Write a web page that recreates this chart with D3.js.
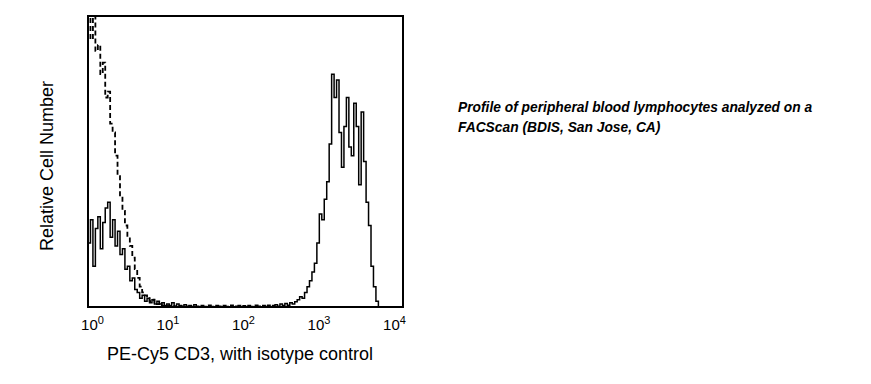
<!DOCTYPE html>
<html>
<head>
<meta charset="utf-8">
<script src="https://cdn.jsdelivr.net/npm/d3@7"></script>
<style>
  body { margin: 0; background: #fff; }
  svg text { font-family: "Liberation Sans", Arial, sans-serif; fill: #000; }
</style>
</head>
<body>
<div id="chart"></div>
<script>
// histogram bins: 32 per decade, from 10^0 to 10^4 (128 bins)
var binsPerDecade = 32;

// CD3 stained (solid line), relative cell number (100 = top of plot)
var cd3Counts = [
  22, 30, 14, 27, 31, 20, 29, 34, 36, 24, 30, 21, 26, 18, 20, 13,
  14, 9, 10, 6, 5, 3, 4, 2, 3, 1.5, 2.5, 1, 2, 1, 1.5, 0.5,
  1, 0.5, 1.5, 0.3, 1, 0.5, 0.3, 0.8, 0.3, 0.5, 0.2, 0.8, 0.3, 0, 0.5, 0.2,
  0, 0.6, 0.2, 0, 0.5, 0.3, 0, 0.5, 0.2, 0, 0.6, 0, 0.3, 0.5, 0, 0.4,
  0, 0.5, 0.2, 0, 0.6, 0.3, 0, 0.5, 0.2, 0.6, 0, 0.5, 0.8, 0.3, 1, 0.5,
  1.2, 0.6, 1.5, 1, 1.8, 2.5, 3.5, 3, 5, 7, 9, 12, 15, 22, 32, 30,
  37, 43, 56, 80, 72, 78, 60, 48, 62, 72, 55, 52, 70, 62, 42, 67,
  50, 36, 28, 14, 7, 2, 0, 0, 0, 0, 0, 0, 0, 0, 0, 0
];

// isotype control (dashed line)
var isotypeCounts = [
  104, 92, 100, 88, 90, 80, 84, 72, 74, 63, 60, 52, 45, 38, 33, 28,
  24, 21, 17, 13, 10, 7, 5, 4, 3, 2, 2.5, 1.5, 1, 1.5, 0.5, 0.8,
  0.3, 0.5, 0, 0.3, 0, 0.2, 0, 0, 0, 0, 0, 0, 0, 0, 0, 0,
  0, 0, 0, 0, 0, 0, 0, 0, 0, 0, 0, 0, 0, 0, 0, 0,
  0, 0, 0, 0, 0, 0, 0, 0, 0, 0, 0, 0, 0, 0, 0, 0,
  0, 0, 0, 0, 0, 0, 0, 0, 0, 0, 0, 0, 0, 0, 0, 0,
  0, 0, 0, 0, 0, 0, 0, 0, 0, 0, 0, 0, 0, 0, 0, 0,
  0, 0, 0, 0, 0, 0, 0, 0, 0, 0, 0, 0, 0, 0, 0, 0
];

var tickValues = [1, 10, 100, 1000, 10000];
var tickExponents = ["0", "1", "2", "3", "4"];

var xTitle = "PE-Cy5 CD3, with isotype control";
var yTitle = "Relative Cell Number";
var captionLines = [
  "Profile of peripheral blood lymphocytes analyzed on a",
  "FACScan (BDIS, San Jose, CA)"
];

var W = 871, H = 384;
var box = { left: 88, right: 403, top: 16, bottom: 307 };

var svg = d3.select("#chart").append("svg")
  .attr("width", W)
  .attr("height", H);

var x = d3.scaleLog().domain([1, 10000]).range([box.left, box.right]);
var y = d3.scaleLinear().domain([0, 100]).range([box.bottom, box.top]);
// tick labels sit a bit inside the ends of the axis
var xLabel = d3.scaleLog().domain([1, 10000]).range([92, 394]);

svg.append("clipPath").attr("id", "plotClip")
  .append("rect")
  .attr("x", box.left).attr("y", box.top)
  .attr("width", box.right - box.left).attr("height", box.bottom - box.top);

function toSteps(counts) {
  var pts = counts.map(function(c, i) {
    return { v: Math.pow(10, i / binsPerDecade), c: c };
  });
  pts.push({ v: 10000, c: counts[counts.length - 1] });
  return pts;
}

var line = d3.line()
  .x(function(d) { return x(d.v); })
  .y(function(d) { return y(d.c); })
  .curve(d3.curveStepAfter);

var plot = svg.append("g").attr("clip-path", "url(#plotClip)");

plot.append("path")
  .datum(toSteps(isotypeCounts))
  .attr("d", line)
  .attr("fill", "none")
  .attr("stroke", "#000")
  .attr("stroke-width", 1.8)
  .attr("stroke-dasharray", "5,3");

plot.append("path")
  .datum(toSteps(cd3Counts))
  .attr("d", line)
  .attr("fill", "none")
  .attr("stroke", "#000")
  .attr("stroke-width", 1.5);

// frame
svg.append("rect")
  .attr("x", box.left).attr("y", box.top)
  .attr("width", box.right - box.left).attr("height", box.bottom - box.top)
  .attr("fill", "none")
  .attr("stroke", "#000")
  .attr("stroke-width", 2);

// tick labels, 10 with superscript exponent
var xAxis = d3.axisBottom(xLabel)
  .tickValues(tickValues)
  .tickSize(0)
  .tickFormat(function() { return ""; });

var axisG = svg.append("g")
  .attr("transform", "translate(0," + (box.bottom + 23) + ")")
  .call(xAxis);
axisG.select(".domain").remove();

axisG.selectAll(".tick text").each(function(d, i) {
  var t = d3.select(this)
    .attr("y", 0).attr("dy", 0)
    .style("font-size", "15px")
    .attr("text-anchor", "middle");
  t.append("tspan").text("10");
  t.append("tspan")
    .attr("dy", -6)
    .style("font-size", "11px")
    .text(tickExponents[i]);
});

svg.append("text")
  .attr("x", 240)
  .attr("y", 360)
  .attr("text-anchor", "middle")
  .style("font-size", "18px")
  .text(xTitle);

svg.append("text")
  .attr("transform", "translate(53,166) rotate(-90)")
  .attr("text-anchor", "middle")
  .style("font-size", "18px")
  .text(yTitle);

svg.append("g").selectAll("text")
  .data(captionLines)
  .enter().append("text")
  .attr("x", 458)
  .attr("y", function(d, i) { return 112 + i * 20; })
  .style("font-size", "13.8px")
  .style("font-weight", "bold")
  .style("font-style", "italic")
  .text(function(d) { return d; });
</script>
</body>
</html>
